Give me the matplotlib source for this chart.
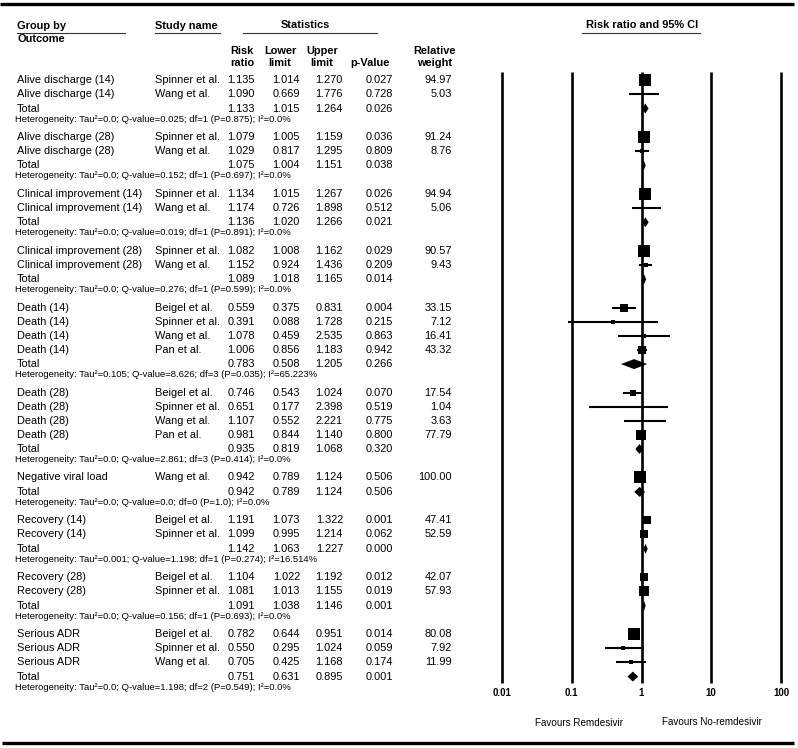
import matplotlib.pyplot as plt
import numpy as np

plt.rcParams['font.family'] = ['Liberation Sans', 'DejaVu Sans']

# ---- data ----
outcomes = ['Alive discharge (14)', 'Alive discharge (28)', 'Clinical improvement (14)',
            'Clinical improvement (28)', 'Death (14)', 'Death (28)', 'Negative viral load',
            'Recovery (14)', 'Recovery (28)', 'Serious ADR']

study_outcome = [0, 0, 1, 1, 2, 2, 3, 3, 4, 4, 4, 4, 5, 5, 5, 5, 6, 7, 7, 8, 8, 9, 9, 9]
study_name = ['Spinner et al.', 'Wang et al.', 'Spinner et al.', 'Wang et al.',
              'Spinner et al.', 'Wang et al.', 'Spinner et al.', 'Wang et al.',
              'Beigel et al.', 'Spinner et al.', 'Wang et al.', 'Pan et al.',
              'Beigel et al.', 'Spinner et al.', 'Wang et al.', 'Pan et al.',
              'Wang et al.', 'Beigel et al.', 'Spinner et al.', 'Beigel et al.', 'Spinner et al.',
              'Beigel et al.', 'Spinner et al.', 'Wang et al.']
rr = [1.135, 1.090, 1.079, 1.029, 1.134, 1.174, 1.082, 1.152,
      0.559, 0.391, 1.078, 1.006, 0.746, 0.651, 1.107, 0.981,
      0.942, 1.191, 1.099, 1.104, 1.081, 0.782, 0.550, 0.705]
lower = [1.014, 0.669, 1.005, 0.817, 1.015, 0.726, 1.008, 0.924,
         0.375, 0.088, 0.459, 0.856, 0.543, 0.177, 0.552, 0.844,
         0.789, 1.073, 0.995, 1.022, 1.013, 0.644, 0.295, 0.425]
upper = [1.270, 1.776, 1.159, 1.295, 1.267, 1.898, 1.162, 1.436,
         0.831, 1.728, 2.535, 1.183, 1.024, 2.398, 2.221, 1.140,
         1.124, 1.322, 1.214, 1.192, 1.155, 0.951, 1.024, 1.168]
pval = [0.027, 0.728, 0.036, 0.809, 0.026, 0.512, 0.029, 0.209,
        0.004, 0.215, 0.863, 0.942, 0.070, 0.519, 0.775, 0.800,
        0.506, 0.001, 0.062, 0.012, 0.019, 0.014, 0.059, 0.174]
weight = [94.97, 5.03, 91.24, 8.76, 94.94, 5.06, 90.57, 9.43,
          33.15, 7.12, 16.41, 43.32, 17.54, 1.04, 3.63, 77.79,
          100.00, 47.41, 52.59, 42.07, 57.93, 80.08, 7.92, 11.99]

tot_rr = [1.133, 1.075, 1.136, 1.089, 0.783, 0.935, 0.942, 1.142, 1.091, 0.751]
tot_lo = [1.015, 1.004, 1.020, 1.018, 0.508, 0.819, 0.789, 1.063, 1.038, 0.631]
tot_hi = [1.264, 1.151, 1.266, 1.165, 1.205, 1.068, 1.124, 1.227, 1.146, 0.895]
tot_p = [0.026, 0.038, 0.021, 0.014, 0.266, 0.320, 0.506, 0.000, 0.001, 0.001]

het_tau2 = ['0.0', '0.0', '0.0', '0.0', '0.105', '0.0', '0.0', '0.001', '0.0', '0.0']
het_q = ['0.025', '0.152', '0.019', '0.276', '8.626', '2.861', '0.0', '1.198', '0.156', '1.198']
het_df = [1, 1, 1, 1, 3, 3, 0, 1, 1, 2]
het_p = ['0.875', '0.697', '0.891', '0.599', '0.035', '0.414', '1.0', '0.274', '0.693', '0.549']
het_i2 = ['0.0', '0.0', '0.0', '0.0', '65.223', '0.0', '0.0', '16.514', '0.0', '0.0']

ticks = [0.01, 0.1, 1, 10, 100]
tick_labels = ['0.01', '0.1', '1', '10', '100']

# ---- layout (pixel rows) ----
W, H = 798, 748
fig = plt.figure(figsize=(W / 100, H / 100), dpi=100)
tab = fig.add_axes([0, 0, 1, 1])
tab.set_xlim(0, W)
tab.set_ylim(H, 0)
tab.axis('off')

ax = fig.add_axes([502 / W, 0, (781 - 502) / W, 1])
ax.set_xscale('log')
ax.set_xlim(0.01, 100)
ax.set_ylim(H, 0)
ax.axis('off')

FS = 7.9
HFS = 6.8
col_x = [255, 300, 343, 393, 452]

# rules
tab.plot([0, 794], [4, 4], color='black', lw=2.4, solid_capstyle='butt')
tab.plot([2, 794], [743, 743], color='black', lw=2.4, solid_capstyle='butt')
for x0, x1 in [(17, 125), (155, 220), (243, 377), (582, 700)]:
    tab.plot([x0, x1], [32.5, 32.5], color='#333333', lw=0.8)

tab.text(17, 26, 'Group by', fontsize=FS, fontweight='bold', va='center')
tab.text(17, 38.5, 'Outcome', fontsize=FS, fontweight='bold', va='center')
tab.text(155, 26, 'Study name', fontsize=FS, fontweight='bold', va='center')
tab.text(305, 25, 'Statistics', fontsize=FS, fontweight='bold', va='center', ha='center')
tab.text(642, 25, 'Risk ratio and 95% CI', fontsize=FS, fontweight='bold', va='center', ha='center')
for cx, l1, l2 in [(242, 'Risk', 'ratio'), (280, 'Lower', 'limit'), (322, 'Upper', 'limit'),
                   (370, '', 'p-Value'), (435, 'Relative', 'weight')]:
    if l1:
        tab.text(cx, 51, l1, fontsize=FS, fontweight='bold', va='center', ha='center')
    tab.text(cx, 62.5, l2, fontsize=FS, fontweight='bold', va='center', ha='center')

# vertical reference lines and axis labels
ax.vlines(ticks, 72, 683, color='black', lw=1.9, clip_on=False)
for t, lab in zip(ticks, tick_labels):
    ax.text(t, 693, lab, fontsize=7.0, fontweight='bold', ha='center', va='center')
tab.text(579, 723, 'Favours Remdesivir', fontsize=7.1, ha='center', va='center')
tab.text(712, 722, 'Favours No-remdesivir', fontsize=7.1, ha='center', va='center')

# rows
y = 80.0
s_gap, t_gap, h_gap, g_gap = 14.0, 14.5, 10.5, 17.9
for g, name in enumerate(outcomes):
    idx = [i for i, o in enumerate(study_outcome) if o == g]
    for k, i in enumerate(idx):
        if k > 0:
            y += s_gap
        tab.text(17, y, name, fontsize=FS, va='center')
        tab.text(155, y, study_name[i], fontsize=FS, va='center')
        for cx, v in zip(col_x, [rr[i], lower[i], upper[i], pval[i]]):
            tab.text(cx, y, f'{v:.3f}', fontsize=FS, va='center', ha='right')
        tab.text(col_x[4], y, f'{weight[i]:.2f}', fontsize=FS, va='center', ha='right')
        ax.plot([lower[i], upper[i]], [y, y], color='black', lw=1.5,
                solid_capstyle='butt', clip_on=False)
        side = max(12.3 * np.sqrt(weight[i] / 100), 2.0)
        ax.plot(rr[i], y, marker='s', color='black', markersize=side * 0.72, mew=0,
                clip_on=False)
    y += t_gap
    tab.text(17, y, 'Total', fontsize=FS, va='center')
    for cx, v in zip(col_x, [tot_rr[g], tot_lo[g], tot_hi[g], tot_p[g]]):
        tab.text(cx, y, f'{v:.3f}', fontsize=FS, va='center', ha='right')
    ax.fill([tot_lo[g], tot_rr[g], tot_hi[g], tot_rr[g]], [y, y - 5, y, y + 5],
            color='black', lw=0)
    y += h_gap
    het = (f'Heterogeneity: Tau\u00b2={het_tau2[g]}; Q-value={het_q[g]}; df={het_df[g]} '
           f'(P={het_p[g]}); I\u00b2={het_i2[g]}%')
    tab.text(15, y, het, fontsize=HFS, va='center')
    y += g_gap

fig.savefig('out.png', dpi=100)
